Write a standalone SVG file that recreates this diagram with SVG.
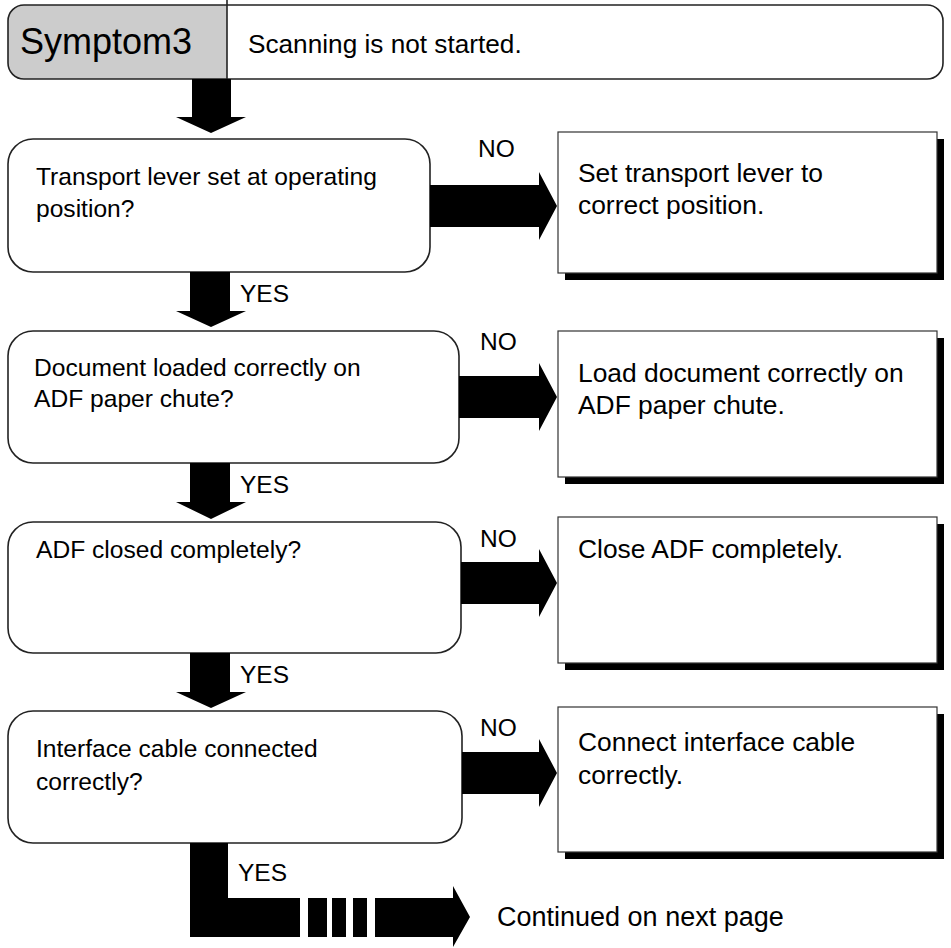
<svg xmlns="http://www.w3.org/2000/svg" width="951" height="948" viewBox="0 0 951 948">
<style>
  text { font-family: "Liberation Sans", Arial, sans-serif; fill: #000; }
  .hd { font-size: 36px; }
  .hs { font-size: 26.2px; }
  .q { font-size: 24.6px; }
  .a { font-size: 26.4px; }
  .c { font-size: 27px; }
  .lbl { font-size: 24.5px; }
  .dec { fill: #fff; stroke: #222; stroke-width: 1.6; }
  .act { fill: #fff; stroke: #333; stroke-width: 1.2; }
  .sh { fill: #000; }
  .arr { fill: #000; stroke: none; }
</style>
<rect x="0" y="0" width="951" height="948" fill="#fff"/>

<g id="header">
  <path d="M227,5 H24 A16,16 0 0 0 8,21 V63 A16,16 0 0 0 24,79 H227 Z" fill="#cccccc"/>
  <rect x="8" y="5" width="935" height="74" rx="16" ry="16" fill="none" stroke="#222" stroke-width="1.6"/>
  <line x1="227" y1="0" x2="227" y2="79" stroke="#222" stroke-width="1.6"/>
  <text class="hd" x="20" y="54">Symptom3</text>
  <text class="hs" x="248" y="53">Scanning is not started.</text>
</g>

<g id="q1">
  <rect class="dec" x="8" y="139" width="422" height="133" rx="25" ry="25"/>
  <text class="q" x="36" y="185">Transport lever set at operating</text>
  <text class="q" x="36" y="217">position?</text>
</g>
<g id="a1">
  <rect class="sh" x="565" y="139" width="379" height="141"/>
  <rect class="act" x="558" y="132" width="379" height="141"/>
  <text class="a" x="578" y="182">Set transport lever to</text>
  <text class="a" x="578" y="214">correct position.</text>
</g>

<g id="q2">
  <rect class="dec" x="8" y="331" width="451" height="132" rx="25" ry="25"/>
  <text class="q" x="34" y="376">Document loaded correctly on</text>
  <text class="q" x="34" y="407">ADF paper chute?</text>
</g>
<g id="a2">
  <rect class="sh" x="565" y="338" width="379" height="146"/>
  <rect class="act" x="558" y="331" width="379" height="146"/>
  <text class="a" x="578" y="382">Load document correctly on</text>
  <text class="a" x="578" y="414">ADF paper chute.</text>
</g>

<g id="q3">
  <rect class="dec" x="8" y="522" width="453" height="131" rx="25" ry="25"/>
  <text class="q" x="36" y="558">ADF closed completely?</text>
</g>
<g id="a3">
  <rect class="sh" x="565" y="524" width="379" height="146"/>
  <rect class="act" x="558" y="517" width="379" height="146"/>
  <text class="a" x="578" y="558">Close ADF completely.</text>
</g>

<g id="q4">
  <rect class="dec" x="8" y="711" width="454" height="132" rx="25" ry="25"/>
  <text class="q" x="36" y="757">Interface cable connected</text>
  <text class="q" x="36" y="790">correctly?</text>
</g>
<g id="a4">
  <rect class="sh" x="565" y="714" width="379" height="145"/>
  <rect class="act" x="558" y="707" width="379" height="145"/>
  <text class="a" x="578" y="751">Connect interface cable</text>
  <text class="a" x="578" y="784">correctly.</text>
</g>

<g id="connectors">
  <polygon class="arr" points="192,79 231,79 231,117 246,117 211,133 176,117 192,117"/>
  <polygon class="arr" points="190,272 230,272 230,311 246,311 211,327 176,311 190,311"/>
  <polygon class="arr" points="190,463 230,463 230,502 246,502 211,519 176,502 190,502"/>
  <polygon class="arr" points="190,653 230,653 230,692 246,692 211,708 176,692 190,692"/>
  <polygon class="arr" points="430,185 539,185 539,172 557,206 539,240 539,227 430,227"/>
  <polygon class="arr" points="459,376 539,376 539,363 557,397 539,431 539,418 459,418"/>
  <polygon class="arr" points="461,562 539,562 539,549 557,583 539,617 539,604 461,604"/>
  <polygon class="arr" points="462,752 539,752 539,739 557,773 539,807 539,794 462,794"/>
  <polygon class="arr" points="190,843 228,843 228,898 300,898 300,937 190,937"/>
  <rect class="arr" x="308" y="898" width="19" height="39"/>
  <rect class="arr" x="332" y="898" width="14" height="39"/>
  <rect class="arr" x="353" y="898" width="14" height="39"/>
  <polygon class="arr" points="375,898 453,898 453,886 470,917 453,947 453,937 375,937"/>
  <text class="lbl" x="478" y="157">NO</text>
  <text class="lbl" x="480" y="350">NO</text>
  <text class="lbl" x="480" y="547">NO</text>
  <text class="lbl" x="480" y="736">NO</text>
  <text class="lbl" x="240" y="302">YES</text>
  <text class="lbl" x="240" y="493">YES</text>
  <text class="lbl" x="240" y="683">YES</text>
  <text class="lbl" x="238" y="881">YES</text>
  <text class="c" x="497" y="926">Continued on next page</text>
</g>
</svg>
